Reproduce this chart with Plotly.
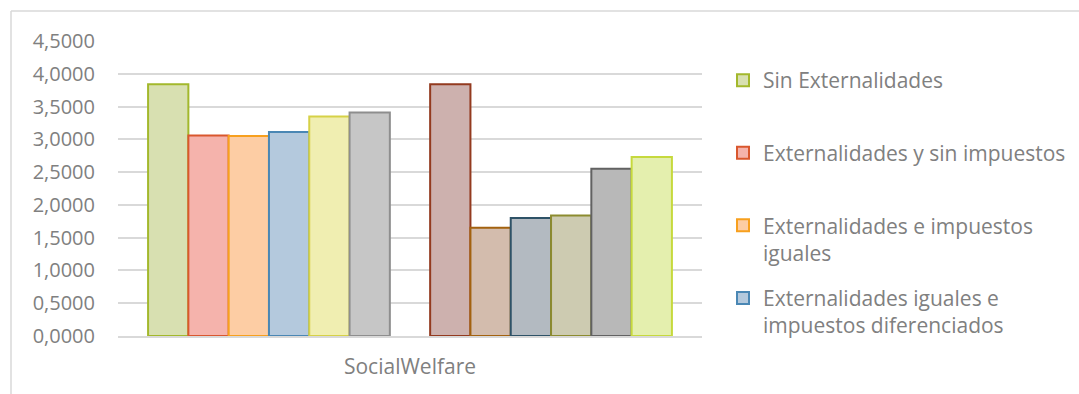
import plotly.graph_objects as go

# Single category, thirteen series (the seventh is left empty as a spacer)
category = ["SocialWelfare"]

series_names = [
    "Sin Externalidades",
    "Externalidades y sin impuestos",
    "Externalidades e impuestos iguales",
    "Externalidades iguales e impuestos diferenciados",
    "Serie 5",
    "Serie 6",
    "Serie 7",
    "Serie 8",
    "Serie 9",
    "Serie 10",
    "Serie 11",
    "Serie 12",
    "Serie 13",
]
legend_labels = [
    "Sin Externalidades<br> ",
    "Externalidades y sin impuestos<br> ",
    "Externalidades e impuestos<br>iguales",
    "Externalidades iguales e<br>impuestos diferenciados",
]
values = [3.84, 3.06, 3.05, 3.11, 3.35, 3.41, None,
          3.84, 1.65, 1.80, 1.84, 2.55, 2.73]

fill_colors = ["#D8E0B1", "#F5B3AC", "#FDCDA4", "#B4C9DD", "#F0EEB1", "#C6C6C6", "#FFFFFF",
               "#CDB1AE", "#D3BCAD", "#B3BAC1", "#CDCBB1", "#B8B8B8", "#E4EFAE"]
line_colors = ["#A3B82C", "#D9572E", "#F7A01E", "#4A87B4", "#D6D147", "#8E8E8E", "#FFFFFF",
               "#933A1F", "#A3620F", "#2E5267", "#8C8B2F", "#626262", "#C6D93D"]

FONT = "Open Sans"
GREY_TXT = "#808080"
GRID = "#D9D9D9"

W, H = 1079, 394
ML, MR, MT, MB = 118, 377, 41, 58
PW, PH = W - ML - MR, H - MT - MB

fig = go.Figure()
for i, (name, v) in enumerate(zip(series_names, values)):
    fig.add_trace(go.Bar(
        x=category,
        y=[v],
        name=legend_labels[i] if i < len(legend_labels) else name,
        legendgroup=f"g{i}",
        showlegend=i < len(legend_labels),
        marker=dict(color=fill_colors[i], line=dict(color=line_colors[i], width=2)),
        hoverinfo="y+name",
    ))


def px_x(px):
    return (px - ML) / PW


def px_y(py):
    return (H - MB - py) / PH


# light outer frame of the chart area (top and left edges visible)
fig.add_shape(type="line", xref="paper", yref="paper",
              x0=px_x(11), x1=px_x(W + 5), y0=px_y(11), y1=px_y(11),
              line=dict(color=GRID, width=1.5))
fig.add_shape(type="line", xref="paper", yref="paper",
              x0=px_x(11), x1=px_x(11), y0=px_y(11), y1=px_y(H + 5),
              line=dict(color=GRID, width=1.5))

fig.update_layout(
    width=W, height=H,
    margin=dict(l=ML, r=MR, t=MT, b=MB, pad=0, autoexpand=False),
    paper_bgcolor="white",
    plot_bgcolor="white",
    barmode="group",
    bargap=0.103,
    bargroupgap=0,
    separators=",.",
    font=dict(family=FONT, color=GREY_TXT, size=20),
    legend=dict(
        x=px_x(723), xanchor="left",
        y=px_y(60), yanchor="top",
        font=dict(family=FONT, size=21, color=GREY_TXT),
        valign="top",
        tracegroupgap=15,
        bgcolor="rgba(0,0,0,0)",
    ),
    showlegend=True,
)
fig.update_xaxes(
    type="category",
    showgrid=False,
    showline=True, linecolor=GRID, linewidth=1.5,
    ticks="", tickfont=dict(size=21, color=GREY_TXT),
    ticklabelstandoff=11,
)
fig.update_yaxes(
    range=[0, 4.5], dtick=0.5, tick0=0,
    tickformat=".4f",
    showgrid=True, gridcolor=GRID, gridwidth=1.5,
    zeroline=False, showline=False,
    ticks="", ticklabelstandoff=22,
    tickfont=dict(size=20, color=GREY_TXT),
)

fig.write_html("out.html")
